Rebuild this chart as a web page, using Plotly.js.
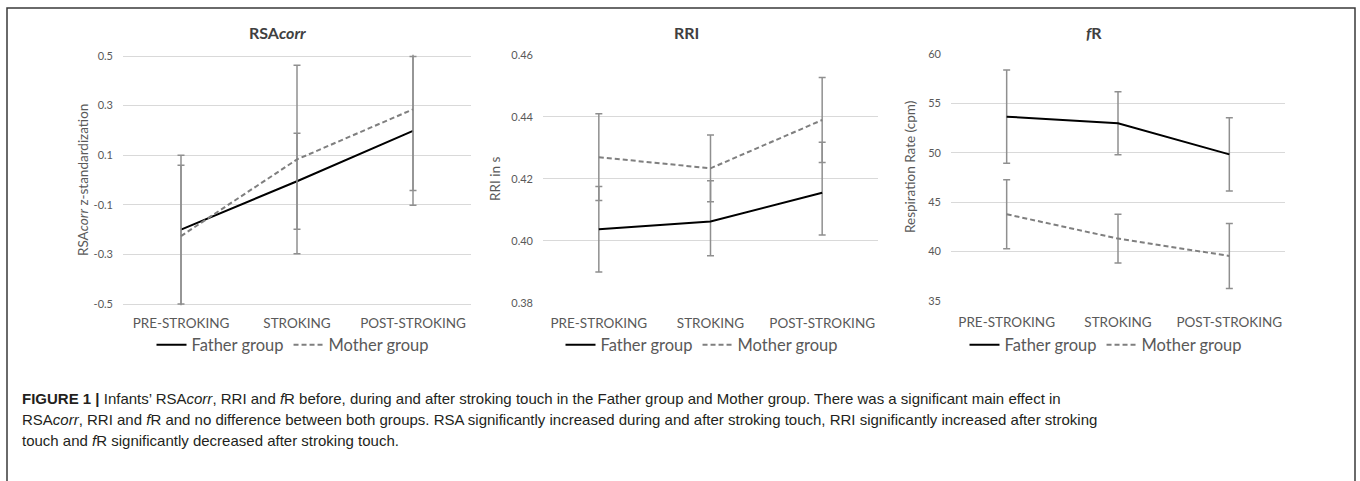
<!DOCTYPE html>
<html>
<head>
<meta charset="utf-8">
<script src="https://cdn.plot.ly/plotly-3.0.1.min.js"></script>
<style>
  html, body { margin: 0; padding: 0; background: #ffffff; }
  #chart { width: 1360px; height: 481px; }
</style>
</head>
<body>
<div id="chart"></div>
<script>
// ---------- data ----------
const categories = ['PRE-STROKING', 'STROKING', 'POST-STROKING'];

// RSAcorr (z-standardization)
const fatherRSA = [-0.200, -0.005, 0.198];
const fatherRSAErr = [0.300, 0.194, 0.300];
const motherRSA = [-0.226, 0.083, 0.285];
const motherRSAErr = [0.285, 0.380, 0.327];

// RRI in s
const fatherRRI = [0.4037, 0.4062, 0.4155];
const fatherRRIErrPlus = [0.0138, 0.0132, 0.0163];
const fatherRRIErrMinus = [0.0138, 0.0110, 0.0136];
const motherRRI = [0.4270, 0.4234, 0.4390];
const motherRRIErr = [0.0140, 0.0108, 0.0137];

// fR respiration rate (cpm)
const fatherFR = [53.67, 53.00, 49.85];
const fatherFRErr = [4.73, 3.20, 3.72];
const motherFR = [43.77, 41.30, 39.54];
const motherFRErr = [3.50, 2.47, 3.30];

// tick labels
const rsaTickVals = [-0.5, -0.3, -0.1, 0.1, 0.3, 0.5];
const rsaTickText = ['-0.5', '-0.3', '-0.1', '0.1', '0.3', '0.5'];
const rriTickVals = [0.38, 0.40, 0.42, 0.44, 0.46];
const rriTickText = ['0.38', '0.40', '0.42', '0.44', '0.46'];
const frTickVals = [35, 40, 45, 50, 55, 60];
const frTickText = ['35', '40', '45', '50', '55', '60'];

const seriesNames = ['Father group', 'Mother group'];

// ---------- styling ----------
const W = 1360, H = 481;
const px = v => v / W;
const py = v => 1 - v / H;
const FONT = 'Lato, "Open Sans", sans-serif';
const GREY_TXT = '#595959';
const ERR_COL = '#8f8f8f';

function errY(plus, minus) {
  const e = { type: 'data', array: plus, color: ERR_COL, thickness: 1.5, width: 3.5, visible: true };
  if (minus) { e.symmetric = false; e.arrayminus = minus; }
  return e;
}
function fatherTrace(y, xa, ya, lg, ep, em) {
  return { type: 'scatter', mode: 'lines', x: categories, y: y, xaxis: xa, yaxis: ya,
    name: seriesNames[0], legend: lg,
    line: { color: '#000000', width: 2 }, error_y: errY(ep, em), hoverinfo: 'skip' };
}
function motherTrace(y, xa, ya, lg, ep, em) {
  return { type: 'scatter', mode: 'lines', x: categories, y: y, xaxis: xa, yaxis: ya,
    name: seriesNames[1], legend: lg,
    line: { color: '#7f7f7f', width: 2, dash: '5px,3px' }, error_y: errY(ep, em), hoverinfo: 'skip' };
}

const data = [
  fatherTrace(fatherRSA, 'x', 'y', 'legend', fatherRSAErr),
  motherTrace(motherRSA, 'x', 'y', 'legend', motherRSAErr),
  fatherTrace(fatherRRI, 'x2', 'y2', 'legend2', fatherRRIErrPlus, fatherRRIErrMinus),
  motherTrace(motherRRI, 'x2', 'y2', 'legend2', motherRRIErr),
  fatherTrace(fatherFR, 'x3', 'y3', 'legend3', fatherFRErr),
  motherTrace(motherFR, 'x3', 'y3', 'legend3', motherFRErr)
];

function xAxis(d0, d1, anchor, standoff) {
  return { domain: [px(d0), px(d1)], anchor: anchor, type: 'category', range: [-0.5, 2.5],
    showgrid: false, zeroline: false, showline: false, ticks: '', fixedrange: true,
    ticklabelstandoff: standoff,
    tickfont: { family: FONT, size: 13.5, color: GREY_TXT } };
}
function yAxis(top, bottom, anchor, range, vals, text) {
  return { domain: [py(bottom), py(top)], anchor: anchor, range: range,
    tickmode: 'array', tickvals: vals, ticktext: text,
    showgrid: true, gridcolor: '#d9d9d9', gridwidth: 1, zeroline: false, showline: false,
    ticks: '', fixedrange: true, ticklabelstandoff: 9,
    tickfont: { family: FONT, size: 11, color: GREY_TXT } };
}

function legendAt(cx) {
  return { orientation: 'h', x: px(cx), xanchor: 'center', y: py(345), yanchor: 'middle',
    bgcolor: 'rgba(0,0,0,0)', font: { family: FONT, size: 16.5, color: GREY_TXT },
    itemwidth: 30, tracegroupgap: 0, itemclick: false, itemdoubleclick: false };
}

function title(text, cx) {
  return { text: text, xref: 'paper', yref: 'paper', x: px(cx), y: py(33),
    xanchor: 'center', yanchor: 'middle', showarrow: false,
    font: { family: FONT, size: 16, color: '#404040' } };
}
function yTitle(text, cx, cy) {
  return { text: text, xref: 'paper', yref: 'paper', x: px(cx), y: py(cy), textangle: -90,
    xanchor: 'center', yanchor: 'middle', showarrow: false,
    font: { family: FONT, size: 13.5, color: GREY_TXT } };
}
const CAP_FONT = { family: '"Liberation Sans", Arial, sans-serif', size: 15, color: '#231f20' };
function capLine(text, cy) {
  return { text: text, xref: 'paper', yref: 'paper', x: px(20), y: py(cy),
    xanchor: 'left', yanchor: 'middle', align: 'left', showarrow: false, font: CAP_FONT };
}

const layout = {
  width: W, height: H,
  margin: { l: 0, r: 0, t: 0, b: 0 },
  paper_bgcolor: '#ffffff', plot_bgcolor: 'rgba(0,0,0,0)',
  showlegend: true,
  xaxis: xAxis(123, 471, 'y', 8),
  yaxis: yAxis(56 - 1.24, 304 + 1.24, 'x', [-0.505, 0.505], rsaTickVals, rsaTickText),
  xaxis2: xAxis(543, 878, 'y2', 11),
  yaxis2: yAxis(55, 302.7, 'x2', [0.38, 0.46], rriTickVals, rriTickText),
  xaxis3: xAxis(951, 1285, 'y3', 12),
  yaxis3: yAxis(54.3, 300.7, 'x3', [35, 60], frTickVals, frTickText),
  legend: legendAt(293),
  legend2: legendAt(702),
  legend3: legendAt(1106),
  annotations: [
    title('<b>RSA<i>corr</i></b>', 277),
    title('<b>RRI</b>', 686),
    title('<b><i>f</i>R</b>', 1094),
    yTitle('RSA<i>corr</i> z-standardization', 83, 180),
    yTitle('RRI in s', 495, 179),
    yTitle('Respiration Rate (cpm)', 910, 167),
    capLine('<b>FIGURE 1 |</b> Infants\u2019 RSA<i>corr</i>, RRI and <i>f</i>R before, during and after stroking touch in the Father group and Mother group. There was a significant main effect in', 398),
    capLine('RSA<i>corr</i>, RRI and <i>f</i>R and no difference between both groups. RSA significantly increased during and after stroking touch, RRI significantly increased after stroking', 419),
    capLine('touch and <i>f</i>R significantly decreased after stroking touch.', 440)
  ],
  shapes: [
    { type: 'rect', xref: 'paper', yref: 'paper', x0: px(7), x1: px(1355), y0: -0.05, y1: py(8),
      line: { color: '#3a3a3a', width: 1.5 }, fillcolor: 'rgba(0,0,0,0)', layer: 'below' }
  ]
};

Plotly.newPlot('chart', data, layout, { staticPlot: true, displayModeBar: false });
</script>
</body>
</html>
